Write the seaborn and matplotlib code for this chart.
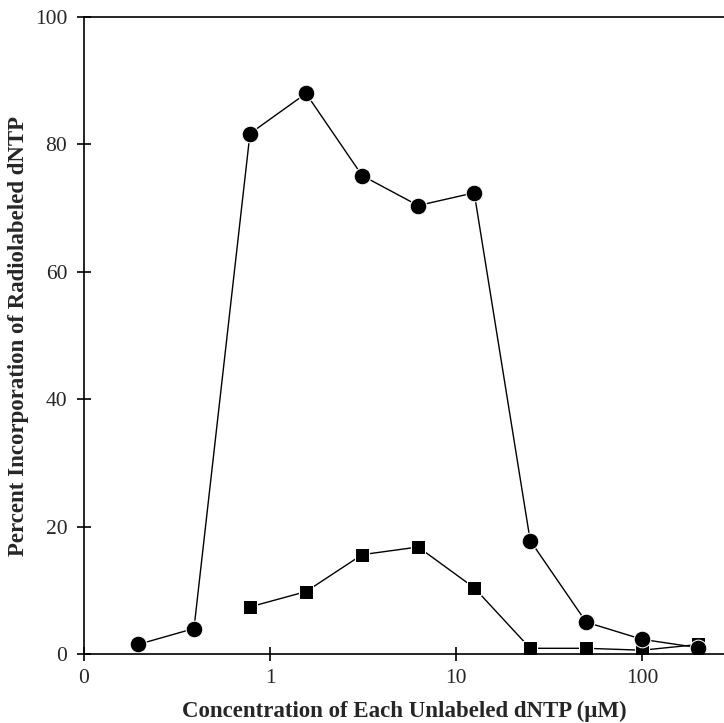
import pandas as pd
import seaborn as sns
import numpy as np
import matplotlib.pyplot as plt
from matplotlib.ticker import FixedLocator, FixedFormatter, NullLocator

# concentrations (uM), twofold dilution series
conc_circle = [0.195, 0.39, 0.78, 1.56, 3.125, 6.25, 12.5, 25, 50, 100, 200]
pct_circle = [1.5, 4.0, 81.7, 88.0, 75.1, 70.4, 72.4, 17.8, 5.0, 2.3, 1.0]

conc_square = [0.78, 1.56, 3.125, 6.25, 12.5, 25, 50, 100, 200]
pct_square = [7.4, 9.8, 15.6, 16.8, 10.4, 0.9, 0.9, 0.6, 1.5]

xtick_vals = [0.1, 1, 10, 100]
xtick_labels = ['0', '1', '10', '100']
ytick_vals = [0, 20, 40, 60, 80, 100]

df = pd.DataFrame({
    'conc': conc_circle + conc_square,
    'pct': pct_circle + pct_square,
    'series': ['circle'] * len(conc_circle) + ['square'] * len(conc_square),
})

sns.set_style('white')
plt.rcParams['font.family'] = ['Liberation Serif', 'DejaVu Serif']

fig = plt.figure(figsize=(7.24, 7.23), dpi=100)
ax = fig.add_axes([0.116, 0.0954, 0.884, 0.8811])

# squares first so the circles sit on top where they overlap
sns.lineplot(data=df[df.series == 'square'], x='conc', y='pct', marker='s',
             markersize=10, color='black', linewidth=1.0, ax=ax, legend=False)
sns.lineplot(data=df[df.series == 'circle'], x='conc', y='pct', marker='o',
             markersize=12, color='black', linewidth=1.0, ax=ax, legend=False)

ax.set_xscale('log')
ax.set_xlim(0.1, 275)
ax.set_ylim(0, 100)
ax.xaxis.set_major_locator(FixedLocator(xtick_vals))
ax.xaxis.set_major_formatter(FixedFormatter(xtick_labels))
ax.xaxis.set_minor_locator(NullLocator())
ax.set_yticks(ytick_vals)

for side in ['left', 'bottom', 'top']:
    ax.spines[side].set_visible(True)
    ax.spines[side].set_color('black')
    ax.spines[side].set_linewidth(1.2)
ax.spines['right'].set_visible(False)

ax.tick_params(axis='both', direction='inout', length=10, width=1.2,
               labelsize=15.5, color='black', left=True, bottom=True)
ax.tick_params(axis='y', pad=7)
ax.tick_params(axis='x', pad=6)

ax.set_xlabel('Concentration of Each Unlabeled dNTP (\u00b5M)', fontsize=16.5,
              fontweight='bold', labelpad=9)
ax.set_ylabel('Percent Incorporation of Radiolabeled dNTP', fontsize=16.5,
              fontweight='bold', labelpad=4)

fig.savefig('out.png', dpi=100)
